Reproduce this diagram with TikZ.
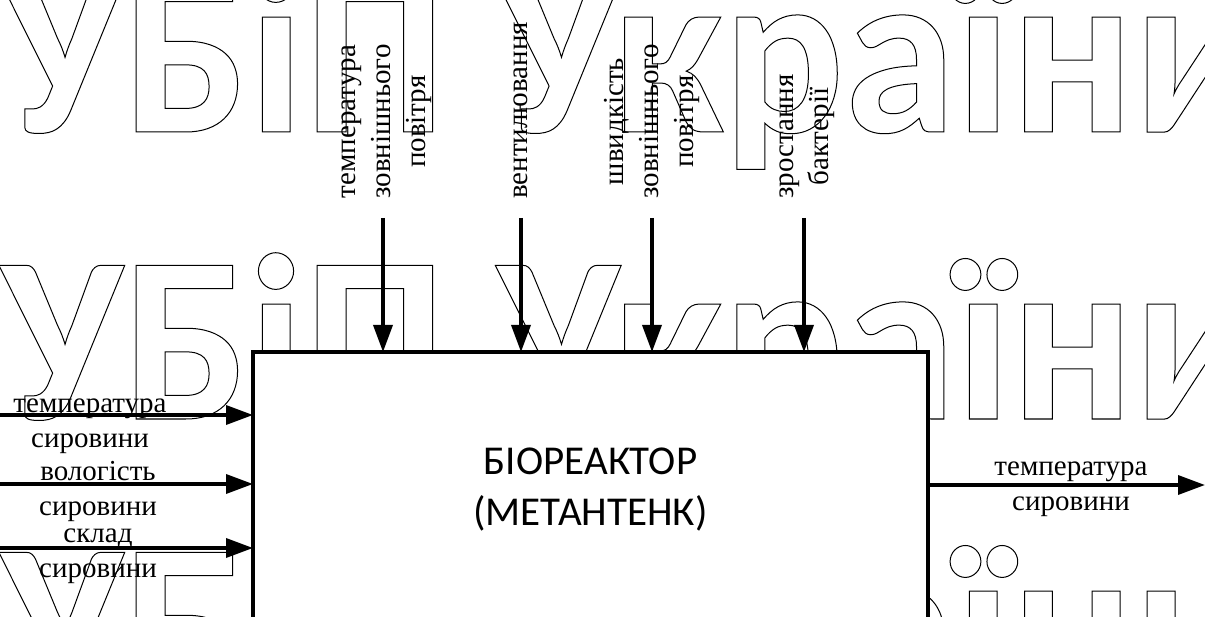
\documentclass[tikz,border=0pt]{standalone}
\usepackage{fontspec}
\setmainfont{Liberation Serif}
\newfontfamily\wmfont{Carlito}[FakeStretch=0.95]
\newfontfamily\boxfont{Carlito}
\usetikzlibrary{arrows.meta}
\newcommand\wmoutline[1]{\special{pdf:literal direct 1 Tr 1.0 w}#1\special{pdf:literal direct 0 Tr}}
\newcommand\lblup{\rule{0pt}{20pt}}
\newcommand\lbldn{\rule[-7pt]{0pt}{7pt}}
\tikzset{
  wm/.style={anchor=base west, inner sep=0, font=\wmfont\bfseries\fontsize{237}{237}\selectfont},
  lbl/.style={inner sep=0, align=center, font=\fontsize{29}{35}\selectfont},
  vlbl/.style={lbl, rotate=90, anchor=west},
  arr/.style={line width=3.5pt, -{Triangle[length=27pt,width=19pt]}},
  reactor/.style={draw, fill=white, line width=3.5pt, inner sep=0, outer sep=0, minimum width=675pt, minimum height=420pt},
  titlestyle/.style={font=\boxfont\fontsize{41}{51}\selectfont, align=center, inner sep=0},
}
\begin{document}
\begin{tikzpicture}[x=1pt,y=-1pt]
\useasboundingbox (0,0) rectangle (1205,617);
% watermark
\node[wm] (wm1) at (0,132) {\wmoutline{УБіП України}};
\node[wm] (wm2) at (0,419) {\wmoutline{УБіП України}};
\node[wm] (wm3) at (0,706) {\wmoutline{УБіП України}};
% main block
\node[reactor] (box) at (590.5,562) {};
\node[titlestyle] (title) at (590.5,490) {\strut БІОРЕАКТОР\\(МЕТАНТЕНК)\strut};
% inputs
\node[lbl] (in1) at (90,423.5) {\lblup температура\\сировини\lbldn};
\node[lbl] (in2) at (98,491) {\lblup вологість\\сировини\lbldn};
\node[lbl] (in3) at (98,553.5) {\lblup склад\\сировини\lbldn};
\node[lbl] (out1) at (1071,486) {\lblup температура\\сировини\lbldn};
% controls
\node[vlbl] (c1) at (384,199) {\lblup температура\\зовнішнього\\повітря\lbldn};
\node[vlbl] (c2) at (521,199) {\lblup вентилювання\lbldn};
\node[vlbl] (c3) at (652,199) {\lblup швидкість\\зовнішнього\\повітря\lbldn};
\node[vlbl] (c4) at (804,199) {\lblup зростання\\бактерії\lbldn};
% arrows
\coordinate (s1) at (383,218);
\coordinate (s2) at (521,218);
\coordinate (s3) at (652,218);
\coordinate (s4) at (804,218);
\draw[arr] (s1) -- (s1 |- box.north);
\draw[arr] (s2) -- (s2 |- box.north);
\draw[arr] (s3) -- (s3 |- box.north);
\draw[arr] (s4) -- (s4 |- box.north);
\coordinate (l1) at (0,415);
\coordinate (l2) at (0,484);
\coordinate (l3) at (0,548);
\draw[arr] (l1) -- (l1 -| box.west);
\draw[arr] (l2) -- (l2 -| box.west);
\draw[arr] (l3) -- (l3 -| box.west);
\coordinate (r1) at (1205,485);
\draw[arr] (box.east |- r1) -- (r1);
\end{tikzpicture}
\end{document}
